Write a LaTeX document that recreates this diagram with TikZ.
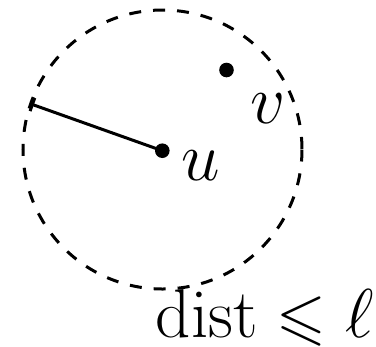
\documentclass[tikz,border=0pt]{standalone}
\usepackage{amssymb}
\usetikzlibrary{arrows.meta}
\tikzset{
  dot/.style={circle,fill=black,inner sep=0pt,minimum size=3.65pt},
  lbl/.style={inner sep=0pt,anchor=base west,font=\fontsize{16}{19}\selectfont},
  ring/.style={draw,dashed,line width=0.75pt},
  radius line/.style={draw,line width=0.75pt,{Bar[width=3.5pt,line width=0.75pt]}-}
}
\begin{document}
\begin{tikzpicture}[x=0.25pt,y=-0.25pt]
\useasboundingbox (0,0) rectangle (376,346);
\draw[ring] (162.5,149.5) circle[radius=139.5];
\node[dot] (u) at (162.3,150.7) {};
\node[dot] (v) at (226.5,70) {};
\coordinate (e) at (31,104);
\draw[radius line] (e) -- (u.center);
\node[lbl] (ul) at (181,180) {$u$};
\node[lbl] (vl) at (250,123) {$v$};
\node[lbl] (dl) at (155,337) {$\mathrm{dist}\leqslant\ell$};
\end{tikzpicture}
\end{document}
